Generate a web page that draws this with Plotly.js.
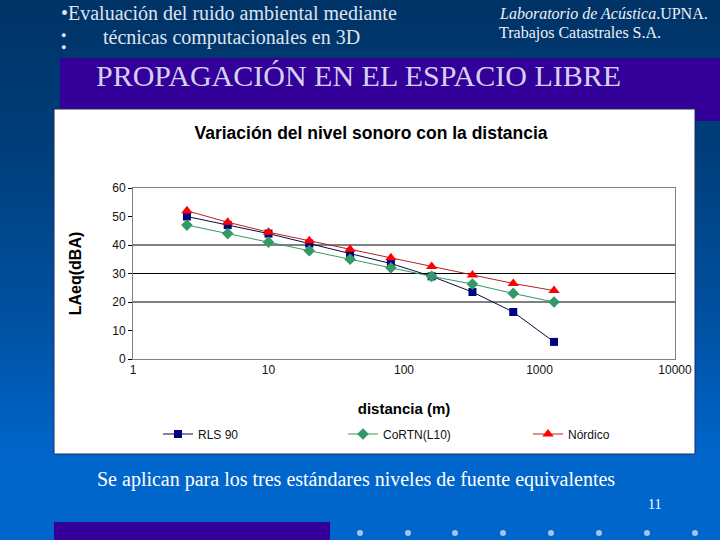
<!DOCTYPE html>
<html>
<head>
<meta charset="utf-8">
<script src="https://cdn.plot.ly/plotly-3.0.1.min.js"></script>
<style>
  html, body { margin: 0; padding: 0; }
  body {
    width: 720px; height: 540px; overflow: hidden;
    background: linear-gradient(to bottom, #003366 0%, #003f7d 30%, #0052a3 60%, #0066cc 85%, #0066cc 100%);
  }
  #chart { width: 720px; height: 540px; }
</style>
</head>
<body>
<div id="chart"></div>
<script>
// Distance (m) at which each level was computed
const distances = [2.5, 5, 10, 20, 40, 80, 160, 320, 640, 1280];

// LAeq (dBA) per standard
const rls90   = [50, 47, 44, 40.5, 37, 33.5, 29, 23.5, 16.5, 6];
const cortn   = [47, 44, 41, 38, 35, 32, 29, 26.3, 23, 20];
const nordico = [52, 48, 44.5, 41.5, 38.5, 35.5, 32.5, 29.5, 26.5, 24];

const seriesNames = ['RLS 90', 'CoRTN(L10)', 'Nórdico'];

const xTickVals = [1, 10, 100, 1000, 10000];
const xTickText = ['1', '10', '100', '1000', '10000'];
const yTickVals = [0, 10, 20, 30, 40, 50, 60];
const gridLevels = [20, 30, 40];

// slide pixel -> paper fraction
const W = 720, H = 540;
const px = x => x / W;
const py = y => 1 - y / H;

const SANS = 'Arial, "Liberation Sans", sans-serif';
const SERIF = '"Times New Roman", "Liberation Serif", serif';

const traces = [
  {
    x: distances, y: rls90, name: seriesNames[0], type: 'scatter', mode: 'lines+markers',
    line: { color: '#0a0a3c', width: 1 },
    marker: { symbol: 'square', size: 8, color: '#000080' }
  },
  {
    x: distances, y: cortn, name: seriesNames[1], type: 'scatter', mode: 'lines+markers',
    line: { color: '#339966', width: 1 },
    marker: { symbol: 'diamond', size: 9, color: '#339966' }
  },
  {
    x: distances, y: nordico, name: seriesNames[2], type: 'scatter', mode: 'lines+markers',
    line: { color: '#b22222', width: 1 },
    marker: { symbol: 'triangle-up', size: 10, color: '#ff0000' }
  }
];

// Slide decoration
const shapes = [
  { type: 'rect', xref: 'paper', yref: 'paper', layer: 'below',
    x0: px(60), x1: px(720), y0: py(58), y1: py(121),
    fillcolor: '#330099', line: { width: 0 } },
  { type: 'rect', xref: 'paper', yref: 'paper', layer: 'below',
    x0: px(54), x1: px(695), y0: py(109), y1: py(454),
    fillcolor: '#ffffff', line: { width: 1, color: '#1b2b5e' } },
  { type: 'rect', xref: 'paper', yref: 'paper', layer: 'below',
    x0: px(54), x1: px(330), y0: py(522), y1: py(541),
    fillcolor: '#330099', line: { width: 0 } }
];

// Horizontal grid lines at selected levels
gridLevels.forEach(v => shapes.push({
  type: 'line', xref: 'x domain', yref: 'y', layer: 'below',
  x0: 0, x1: 1, y0: v, y1: v, line: { color: '#000000', width: 1 }
}));

// Row of small dots along the bottom edge
[360, 408, 455, 503, 551, 599, 647, 695].forEach(cx => shapes.push({
  type: 'circle', xref: 'paper', yref: 'paper', layer: 'above',
  x0: px(cx - 3), x1: px(cx + 3), y0: py(536), y1: py(530),
  fillcolor: '#a9c3ea', line: { width: 0 }
}));

const headColor = '#dfe3ee';
const annotations = [
  { text: '•Evaluación del ruido ambiental mediante', x: px(59), y: py(13),
    font: { family: SERIF, size: 20, color: headColor } },
  { text: '●<br>●', x: px(59), y: py(41.5),
    font: { family: SERIF, size: 9, color: headColor } },
  { text: 'técnicas computacionales en 3D', x: px(101), y: py(37),
    font: { family: SERIF, size: 20, color: headColor } },
  { text: '<i>Laboratorio de Acústica</i>.UPNA.', x: px(497), y: py(14),
    font: { family: SERIF, size: 16, color: '#eef1f7' } },
  { text: 'Trabajos Catastrales S.A.', x: px(497), y: py(33),
    font: { family: SERIF, size: 16, color: '#eef1f7' } },
  { text: 'PROPAGACIÓN EN EL ESPACIO LIBRE', x: px(94), y: py(76),
    font: { family: SERIF, size: 30, color: '#d6d0f0' } },
  { text: 'Se aplican para los tres estándares niveles de fuente equivalentes', x: px(95), y: py(479),
    font: { family: SERIF, size: 20, color: '#ffffff' } },
  { text: '11', x: px(646), y: py(504),
    font: { family: SERIF, size: 14, color: '#ffffff' } }
].map(a => Object.assign({ xref: 'paper', yref: 'paper', xanchor: 'left', yanchor: 'middle',
  showarrow: false }, a));

const layout = {
  width: W, height: H,
  margin: { l: 0, r: 0, t: 0, b: 0, autoexpand: false },
  paper_bgcolor: 'rgba(0,0,0,0)',
  plot_bgcolor: '#ffffff',
  showlegend: true,
  title: {
    text: 'Variación del nivel sonoro con la distancia',
    x: px(371), y: py(133), xanchor: 'center', yanchor: 'middle', xref: 'paper', yref: 'paper',
    font: { family: SANS, size: 17.5, weight: 'bold', color: '#000000' }
  },
  xaxis: {
    type: 'log', range: [0, 4],
    domain: [px(133), px(675)],
    tickvals: xTickVals, ticktext: xTickText,
    tickfont: { family: SANS, size: 12, color: '#111111' },
    ticks: '', showgrid: false, zeroline: false,
    showline: true, linecolor: '#808080', linewidth: 1, mirror: true,
    title: { text: 'distancia (m)', standoff: 27,
      font: { family: SANS, size: 15, weight: 'bold', color: '#000000' } }
  },
  yaxis: {
    range: [0, 60], domain: [py(359), py(188)],
    tickvals: yTickVals,
    tickfont: { family: SANS, size: 12, color: '#111111' },
    ticks: 'outside', ticklen: 4, tickcolor: '#000000',
    showgrid: false, zeroline: false,
    showline: true, linecolor: '#808080', linewidth: 1, mirror: true,
    title: { text: 'LAeq(dBA)', standoff: 26,
      font: { family: SANS, size: 16, weight: 'bold', color: '#000000' } }
  },
  legend: {
    orientation: 'h', x: px(158), y: py(434), xanchor: 'left', yanchor: 'middle',
    bgcolor: 'rgba(0,0,0,0)', entrywidth: 140, entrywidthmode: 'pixels',
    font: { family: SANS, size: 12, color: '#111111' }
  },
  shapes: shapes,
  annotations: annotations
};

Plotly.newPlot('chart', traces, layout, { displayModeBar: false, staticPlot: true });
</script>
</body>
</html>
